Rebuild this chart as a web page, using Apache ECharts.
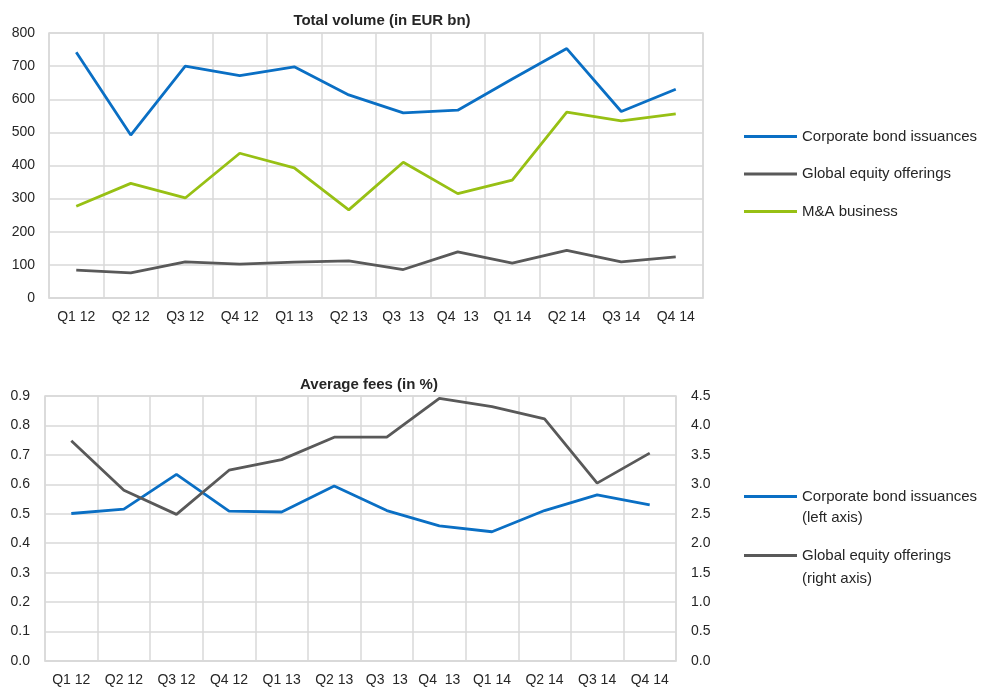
<!DOCTYPE html>
<html>
<head>
    <meta charset="utf-8">
    <title>Volume and fees</title>
    <style>
        html, body { margin: 0; padding: 0; background: #fff; }
        #main { width: 987px; height: 689px; }
    </style>
</head>
<body>
<div id="main"></div>
<script src="https://cdn.jsdelivr.net/npm/echarts@6/dist/echarts.min.js"></script>
<script>
    // quarters, same for both panels
    var quarters = ['Q1 12', 'Q2 12', 'Q3 12', 'Q4 12', 'Q1 13', 'Q2 13', 'Q3  13', 'Q4  13', 'Q1 14', 'Q2 14', 'Q3 14', 'Q4 14'];

    // total volume (EUR bn)
    var volBonds = [742, 492, 700, 671, 698, 613, 559, 567, 661, 753, 563, 630];
    var volEquity = [84, 76, 109, 102, 108, 112, 86, 139, 105, 144, 109, 124];
    var volMA = [277, 346, 302, 437, 393, 266, 410, 315, 356, 561, 535, 556];

    // average fees (%)
    var feeBonds = [0.501, 0.516, 0.634, 0.509, 0.506, 0.594, 0.511, 0.459, 0.439, 0.511, 0.564, 0.530];
    var feeEquity = [3.74, 2.90, 2.49, 3.24, 3.42, 3.80, 3.80, 4.46, 4.32, 4.11, 3.02, 3.53];

    var BLUE = '#0a6fc4', GREY = '#595959', GREEN = '#97c014';
    var FONT = '"Liberation Sans Narrow", "Liberation Sans", sans-serif';
    var gridLine = '#d9d9d9';
    var txt = '#262626';

    var myChart = echarts.init(document.getElementById('main'));

    function catAxis(gi) {
        return {
            type: 'category', gridIndex: gi, data: quarters, boundaryGap: true,
            axisLine: {lineStyle: {color: gridLine, width: 1.5}},
            axisTick: {show: false},
            axisLabel: {color: txt, fontFamily: FONT, fontSize: 14, margin: 12, interval: 0},
            splitLine: {show: true, lineStyle: {color: gridLine, width: 1.5}}
        };
    }

    myChart.setOption({
        textStyle: {fontFamily: FONT},
        title: [
            {text: 'Total volume (in EUR bn)', left: 377, top: 8, textAlign: 'center',
                textStyle: {fontSize: 15, fontWeight: 'bold', color: txt, fontFamily: FONT}},
            {text: 'Average fees (in %)', left: 364, top: 372, textAlign: 'center',
                textStyle: {fontSize: 15, fontWeight: 'bold', color: txt, fontFamily: FONT}}
        ],
        legend: [
            {
                orient: 'vertical', left: 739, top: 124, itemGap: 22.5,
                icon: 'rect', itemWidth: 53, itemHeight: 3,
                textStyle: {fontSize: 15, color: txt, fontFamily: FONT},
                data: ['Corporate bond issuances', 'Global equity offerings', 'M&A business']
            },
            {
                orient: 'vertical', left: 739, top: 484, itemGap: 44,
                icon: 'rect', itemWidth: 53, itemHeight: 3,
                textStyle: {fontSize: 15, color: txt, fontFamily: FONT},
                formatter: function (n) { return n.trim(); },
                data: ['Corporate bond issuances ', 'Global equity offerings ']
            }
        ],
        // second lines of the lower legend
        graphic: [
            {type: 'text', left: 802, top: 510,
                style: {text: '(left axis)', fill: txt, font: '15px ' + FONT}},
            {type: 'text', left: 802, top: 571,
                style: {text: '(right axis)', fill: txt, font: '15px ' + FONT}}
        ],
        grid: [
            {left: 49, top: 33, width: 654, height: 265, show: true, borderColor: gridLine, borderWidth: 1.5},
            {left: 45, top: 396, width: 631, height: 265, show: true, borderColor: gridLine, borderWidth: 1.5}
        ],
        xAxis: [catAxis(0), catAxis(1)],
        yAxis: [
            {
                type: 'value', gridIndex: 0, min: 0, max: 800, interval: 100,
                axisLine: {show: false}, axisTick: {show: false},
                axisLabel: {color: txt, fontFamily: FONT, fontSize: 14, margin: 14},
                splitLine: {lineStyle: {color: gridLine, width: 1.5}}
            },
            {
                type: 'value', gridIndex: 1, min: 0, max: 0.9, interval: 0.1,
                axisLine: {show: false}, axisTick: {show: false},
                axisLabel: {color: txt, fontFamily: FONT, fontSize: 14, margin: 15,
                    formatter: function (v) { return v.toFixed(1); }},
                splitLine: {lineStyle: {color: gridLine, width: 1.5}}
            },
            {
                type: 'value', gridIndex: 1, position: 'right', min: 0, max: 4.5, interval: 0.5,
                axisLine: {show: false}, axisTick: {show: false},
                axisLabel: {color: txt, fontFamily: FONT, fontSize: 14, margin: 15,
                    formatter: function (v) { return v.toFixed(1); }},
                splitLine: {show: false}
            }
        ],
        series: [
            {name: 'Corporate bond issuances', type: 'line', xAxisIndex: 0, yAxisIndex: 0, data: volBonds,
                symbol: 'none', color: BLUE, lineStyle: {width: 2.8}},
            {name: 'Global equity offerings', type: 'line', xAxisIndex: 0, yAxisIndex: 0, data: volEquity,
                symbol: 'none', color: GREY, lineStyle: {width: 2.8}},
            {name: 'M&A business', type: 'line', xAxisIndex: 0, yAxisIndex: 0, data: volMA,
                symbol: 'none', color: GREEN, lineStyle: {width: 2.8}},
            {name: 'Corporate bond issuances ', type: 'line', xAxisIndex: 1, yAxisIndex: 1, data: feeBonds,
                symbol: 'none', color: BLUE, lineStyle: {width: 2.8}},
            {name: 'Global equity offerings ', type: 'line', xAxisIndex: 1, yAxisIndex: 2, data: feeEquity,
                symbol: 'none', color: GREY, lineStyle: {width: 2.8}}
        ]
    });
</script>
</body>
</html>
